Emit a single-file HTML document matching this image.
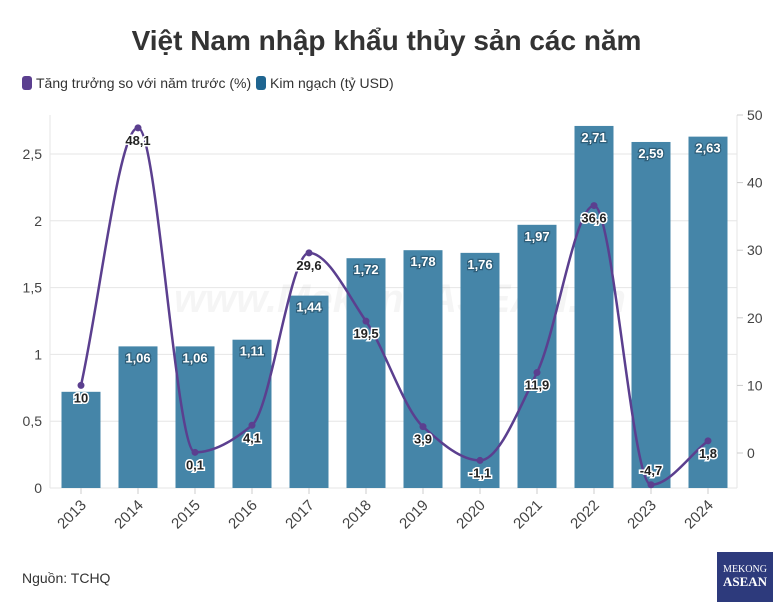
<!DOCTYPE html>
<html><head><meta charset="utf-8"><style>
body{margin:0;width:773px;height:602px;background:#fff;font-family:"Liberation Sans",sans-serif;overflow:hidden;position:relative}
#title{position:absolute;top:25px;width:773px;text-align:center;font-size:28px;font-weight:bold;color:#333}
#src{position:absolute;left:22px;top:570px;font-size:14px;color:#333}
#logo{position:absolute;left:717px;top:552px;width:56px;height:50px;background:#2d3a7c;color:#fff;font-family:"Liberation Serif",serif;text-align:center;line-height:1}
</style></head><body>
<div id="title">Việt Nam nhập khẩu thủy sản các năm</div>
<svg id="chart" width="773" height="602" style="position:absolute;left:0;top:0"></svg>
<div id="src">Nguồn: TCHQ</div>
<div id="logo"><div style="font-size:10px;margin-top:13px">MEKONG</div><div style="font-size:13px;font-weight:bold">ASEAN</div></div>
<script>
const years=["2013","2014","2015","2016","2017","2018","2019","2020","2021","2022","2023","2024"];
const values=[0.72,1.06,1.06,1.11,1.44,1.72,1.78,1.76,1.97,2.71,2.59,2.63];
const valueLabels=["","1,06","1,06","1,11","1,44","1,72","1,78","1,76","1,97","2,71","2,59","2,63"];
const growth=[10,48.1,0.1,4.1,29.6,19.5,3.9,-1.1,11.9,36.6,-4.7,1.8];
const growthLabels=["10","48,1","0,1","4,1","29,6","19,5","3,9","-1,1","11,9","36,6","-4,7","1,8"];
const leftTicks=[0,0.5,1,1.5,2,2.5];
const leftTickLabels=["0","0,5","1","1,5","2","2,5"];
const rightTicks=[0,10,20,30,40,50];
const NS="http://www.w3.org/2000/svg";
const svg=document.getElementById('chart');
const L=50,R=737,T=115,B=488;
const yL=v=>B-v*133.6;
const yR=v=>453-v*6.76;
const xC=i=>81+i*57;
function el(t,a,txt){const e=document.createElementNS(NS,t);for(const k in a)e.setAttribute(k,a[k]);if(txt!=null)e.textContent=txt;svg.appendChild(e);return e;}
let g;
g=el('rect',{x:22,y:76,width:10,height:14,rx:3,fill:'#5b3f8f'});
g=el('text',{x:36,y:88,'font-size':14,fill:'#333'},'Tăng trưởng so với năm trước (%)');
g=el('rect',{x:256,y:76,width:10,height:14,rx:3,fill:'#1f6590'});
g=el('text',{x:270,y:88,'font-size':14,fill:'#333'},'Kim ngạch (tỷ USD)');
leftTicks.forEach((v,i)=>{
 g=el('line',{x1:L,x2:R,y1:yL(v),y2:yL(v),stroke:'#e6e6e6'});
 g=el('text',{x:42,y:yL(v)+5,'font-size':14,fill:'#444','text-anchor':'end'},leftTickLabels[i]);
});
el('line',{x1:L,x2:L,y1:T,y2:B,stroke:'#e6e6e6'});
el('line',{x1:R,x2:R,y1:T,y2:B,stroke:'#e6e6e6'});
rightTicks.forEach(v=>{
 el('line',{x1:R,x2:R+6,y1:yR(v),y2:yR(v),stroke:'#ccc'});
 g=el('text',{x:747,y:yR(v)+5,'font-size':14,fill:'#444'},String(v));
});
el('text',{x:400,y:312,'font-size':40,'font-weight':'bold','font-style':'italic',fill:'#000','fill-opacity':0.04,'text-anchor':'middle'},'www.MekongASEAN.vn');
years.forEach((y,i)=>{
 g=el('rect',{x:xC(i)-19.5,y:yL(values[i]),width:39,height:B-yL(values[i]),fill:'#4585a8'});
 
 if(valueLabels[i]){g=el('text',{x:xC(i),y:yL(values[i])+16,'font-size':13,'font-weight':'bold',fill:'#fff','text-anchor':'middle',stroke:'#2f5f7a','stroke-width':2.5,'paint-order':'stroke'},valueLabels[i]);}
 el('line',{x1:xC(i),x2:xC(i),y1:B,y2:B+6,stroke:'#ccc'});
 g=el('text',{x:xC(i)+6,y:B+18,'font-size':15,fill:'#444','text-anchor':'end',transform:`rotate(-45 ${xC(i)+6} ${B+18})`},y);
});
const pts=growth.map((v,i)=>[xC(i),yR(v)]);
const n=pts.length,h=57;
const s=[];for(let i=0;i<n-1;i++)s.push((pts[i+1][1]-pts[i][1])/h);
const m=[];
for(let i=0;i<n;i++){
 if(i===0)m.push(s[0]);else if(i===n-1)m.push(s[n-2]);
 else{ if(s[i-1]*s[i]<=0)m.push(0); else m.push(2*s[i-1]*s[i]/(s[i-1]+s[i])); }
}
let d=`M${pts[0][0]},${pts[0][1]}`;
for(let i=0;i<n-1;i++){
 const p1=pts[i],p2=pts[i+1];
 d+=` C${p1[0]+h/3},${p1[1]+m[i]*h/3} ${p2[0]-h/3},${p2[1]-m[i+1]*h/3} ${p2[0]},${p2[1]}`;
}
g=el('path',{d,fill:'none',stroke:'#5b3f8f','stroke-width':2.5});
growth.forEach((v,i)=>{
 g=el('circle',{cx:pts[i][0],cy:pts[i][1],r:3.5,fill:'#5b3f8f'});
 const dy=(i===10)?-10:(i===11?17:17);
 g=el('text',{x:pts[i][0],y:pts[i][1]+dy,'font-size':13,'font-weight':'bold',fill:'#222','text-anchor':'middle',stroke:'#fff','stroke-width':3,'paint-order':'stroke'},growthLabels[i]);
});
</script>
</body></html>
